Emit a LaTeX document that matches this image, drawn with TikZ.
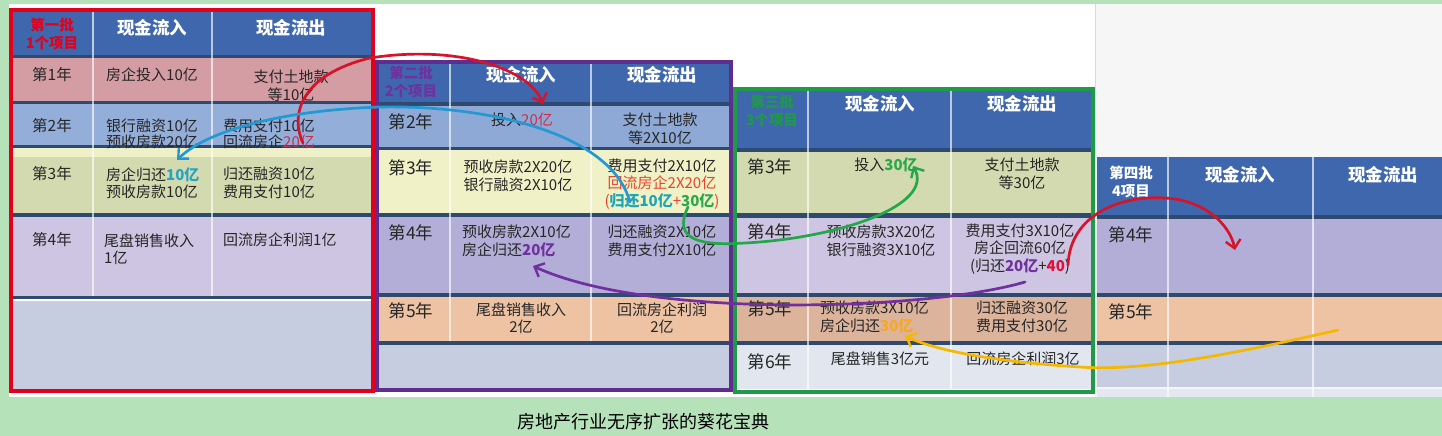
\documentclass[tikz,border=0pt]{standalone}
\usepackage{fontspec}
\setmainfont{Noto Sans CJK SC}
\usetikzlibrary{arrows.meta}
\definecolor{bggreen}{HTML}{B6E2BA}
\definecolor{panelgray}{HTML}{F6F6F6}
\definecolor{hdblue}{HTML}{3F67AD}
\definecolor{sepc}{HTML}{2E4A6F}
\definecolor{txt}{HTML}{262626}
\definecolor{rPink}{HTML}{D49CA3}
\definecolor{rBlue1}{HTML}{94AEDA}
\definecolor{rBlue2}{HTML}{8EA9D6}
\definecolor{rYG}{HTML}{D3DAAF}
\definecolor{rYstrip}{HTML}{EEF0C8}
\definecolor{rYellow}{HTML}{F0F1C6}
\definecolor{rLav1}{HTML}{CEC5E2}
\definecolor{rLav2}{HTML}{B3AED7}
\definecolor{rPeach}{HTML}{EEC3A4}
\definecolor{rPeachB}{HTML}{DCB49C}
\definecolor{rGray}{HTML}{C6CDE1}
\definecolor{rPale}{HTML}{E2E7EF}
\definecolor{rLow}{HTML}{E4E8F0}
\definecolor{boxRed}{HTML}{E3001B}
\definecolor{boxPurple}{HTML}{5E2D8E}
\definecolor{boxGreen}{HTML}{1E9A48}
\definecolor{cCrimson}{HTML}{C8304A}
\definecolor{cTeal}{HTML}{22A5C9}
\definecolor{cOrangeRed}{HTML}{E8442A}
\definecolor{cTealB}{HTML}{1FA6B4}
\definecolor{cGreen}{HTML}{2BA84A}
\definecolor{cPurple}{HTML}{7030A0}
\definecolor{cRed}{HTML}{E0103A}
\definecolor{cOrange}{HTML}{F7A823}
\definecolor{aRed}{HTML}{D7132B}
\definecolor{aBlue}{HTML}{2399D4}
\definecolor{aGreen}{HTML}{22A84A}
\definecolor{aPurple}{HTML}{7030A0}
\definecolor{aYellow}{HTML}{F5B800}
\tikzset{
  cell/.style={font=\fontsize{15}{17.5}\selectfont, text=txt, inner sep=0pt, align=center},
  cellL/.style={cell, align=left},
  yrone/.style={font=\fontsize{15.5}{18}\selectfont, text=txt, inner sep=0pt},
  yr/.style={font=\fontsize{17.5}{20}\selectfont, text=txt, inner sep=0pt},
  hd/.style={font=\bfseries\fontsize{17.5}{20}\selectfont, text=white, inner sep=0pt},
  batch/.style={font=\bfseries\fontsize{14.5}{18}\selectfont, inner sep=0pt, align=center},
  sepbar/.style={fill=sepc},
  colline/.style={draw=white, draw opacity=0.65, line width=1.2pt},
  arr/.style={line width=2.7pt, line cap=round, -{Straight Barb[length=8pt,width=15pt,line width=2.4pt]}},
}
\begin{document}
\begin{tikzpicture}[x=1pt,y=-1pt]
\useasboundingbox (0,0) rectangle (1442,436);
\fill[bggreen] (0,0) rectangle (1442,436);
\fill[white] (9,4) rectangle (1095,397);
\fill[panelgray] (1095,4) rectangle (1442,397);
\draw[black!15, line width=1pt] (1095,4) -- (1095,157);

% ---------- Table 1 ----------
\fill[hdblue] (12,12) rectangle (371,55);
\fill[sepbar] (12,55) rectangle (371,58);
\fill[rPink] (12,58) rectangle (371,101);
\fill[sepbar] (12,101) rectangle (371,104);
\fill[rBlue1] (12,104) rectangle (371,145);
\fill[sepbar] (12,145) rectangle (371,148);
\fill[rYstrip] (12,148) rectangle (371,157);
\fill[rYG] (12,157) rectangle (371,213);
\fill[sepbar] (12,213) rectangle (371,217);
\fill[rLav1] (12,217) rectangle (371,296);
\fill[sepbar] (12,296) rectangle (371,299);
\fill[white] (12,299) rectangle (371,301);
\fill[rGray] (12,301) rectangle (371,389);
\draw[colline] (93,12) -- (93,296);
\draw[colline] (212,12) -- (212,296);
\draw[boxRed, line width=4pt] (10.5,10.5) rectangle (372.5,390.5);

% ---------- Table 2 ----------
\fill[hdblue] (378,60) rectangle (730,102);
\fill[sepbar] (378,102) rectangle (730,106);
\fill[rBlue2] (378,106) rectangle (730,147);
\fill[sepbar] (378,147) rectangle (730,150);
\fill[rYellow] (378,150) rectangle (730,213);
\fill[sepbar] (378,213) rectangle (730,217);
\fill[rLav2] (378,217) rectangle (730,293);
\fill[sepbar] (378,293) rectangle (730,297);
\fill[rPeach] (378,297) rectangle (730,341);
\fill[sepbar] (378,341) rectangle (730,345);
\fill[rGray] (378,345) rectangle (730,389);
\draw[colline] (450,60) -- (450,341);
\draw[colline] (591,60) -- (591,341);
\draw[boxPurple, line width=4.5pt] (377,62) rectangle (731,390);

% ---------- Table 3 ----------
\fill[hdblue] (737,90) rectangle (1091,148);
\fill[sepbar] (737,148) rectangle (1091,152);
\fill[rYG] (737,152) rectangle (1091,213);
\fill[sepbar] (737,213) rectangle (1091,218);
\fill[rLav1] (737,218) rectangle (1091,293);
\fill[sepbar] (737,293) rectangle (1091,297);
\fill[rPeachB] (737,297) rectangle (1091,341);
\fill[sepbar] (737,341) rectangle (1091,345);
\fill[rPale] (737,345) rectangle (1091,389);
\draw[colline] (808,90) -- (808,389);
\draw[colline] (951,90) -- (951,389);
\draw[boxGreen, line width=4pt] (735,89) rectangle (1093,392);

% ---------- Table 4 ----------
\fill[hdblue] (1097,157) rectangle (1442,215);
\fill[sepbar] (1097,215) rectangle (1442,219);
\fill[rLav2] (1097,219) rectangle (1442,293);
\fill[sepbar] (1097,293) rectangle (1442,297);
\fill[rPeach] (1097,297) rectangle (1442,341);
\fill[sepbar] (1097,341) rectangle (1442,345);
\fill[rGray] (1097,345) rectangle (1442,387);
\fill[rLow] (1097,389) rectangle (1442,397);
\draw[colline] (1168,157) -- (1168,397);
\draw[colline] (1313,157) -- (1313,397);

% ---------- Texts table 1 ----------
\node[batch, text=boxRed] (b1) at (52,34) {第一批\\1个项目};
\node[hd] (t1in) at (152,28) {现金流入};
\node[hd] (t1out) at (291,28) {现金流出};
\node[yrone] (t1y1) at (52,75) {第1年};
\node[cell, anchor=west] (t1a1) at (106,75) {房企投入10亿};
\node[cell] (t1b1) at (291,86) {支付土地款\\等10亿};
\node[yrone] (t1y2) at (52,126) {第2年};
\node[cellL, anchor=west, font=\fontsize{15}{16}\selectfont] (t1a2) at (106,134) {银行融资10亿\\预收房款20亿};
\node[cellL, anchor=west, font=\fontsize{15}{16}\selectfont] (t1b2) at (223,134) {费用支付10亿\\回流房企\textcolor{cCrimson}{20亿}};
\node[yrone] (t1y3) at (52,174) {第3年};
\node[cellL, anchor=west] (t1a3) at (106,183) {房企归还\textcolor{cTeal}{\bfseries 10亿}\\预收房款10亿};
\node[cellL, anchor=west] (t1b3) at (223,183) {归还融资10亿\\费用支付10亿};
\node[yrone] (t1y4) at (52,240) {第4年};
\node[cellL, anchor=west] (t1a4) at (104,249) {尾盘销售收入\\1亿};
\node[cellL, anchor=west] (t1b4) at (223,240) {回流房企利润1亿};

% ---------- Texts table 2 ----------
\node[batch, text=cPurple] (b2) at (411,82) {第二批\\2个项目};
\node[hd] (t2in) at (521,75) {现金流入};
\node[hd] (t2out) at (662,75) {现金流出};
\node[yr] (t2y2) at (411,122) {第2年};
\node[cell] (t2a2) at (522,120) {投入\textcolor{cCrimson}{20亿}};
\node[cell] (t2b2) at (660,129) {支付土地款\\等2X10亿};
\node[yr] (t2y3) at (411,168) {第3年};
\node[cell] (t2a3) at (518,176) {预收房款2X20亿\\银行融资2X10亿};
\node[cell] (t2b3) at (662,184) {费用支付2X10亿\\\textcolor{cOrangeRed}{回流房企2X20亿}\\\textcolor{cOrangeRed}{(}\textcolor{cTealB}{\bfseries 归还10亿}\textcolor{cOrangeRed}{+}\textcolor{cGreen}{\bfseries 30亿}\textcolor{cOrangeRed}{)}};
\node[yr] (t2y4) at (411,233) {第4年};
\node[cellL, anchor=west] (t2a4) at (462,241) {预收房款2X10亿\\房企归还\textcolor{cPurple}{\bfseries 20亿}};
\node[cell] (t2b4) at (662,241) {归还融资2X10亿\\费用支付2X10亿};
\node[yr] (t2y5) at (411,311) {第5年};
\node[cell] (t2a5) at (521,318) {尾盘销售收入\\2亿};
\node[cell] (t2b5) at (662,318) {回流房企利润\\2亿};

% ---------- Texts table 3 ----------
\node[batch, text=boxGreen] (b3) at (772,111) {第三批\\3个项目};
\node[hd] (t3in) at (880,104) {现金流入};
\node[hd] (t3out) at (1022,104) {现金流出};
\node[yr] (t3y3) at (770,167) {第3年};
\node[cell] (t3a3) at (886,165) {投入\textcolor{cGreen}{\bfseries 30亿}};
\node[cell] (t3b3) at (1022,174) {支付土地款\\等30亿};
\node[yr] (t3y4) at (770,232) {第4年};
\node[cell] (t3a4) at (881,241) {预收房款3X20亿\\银行融资3X10亿};
\node[cell] (t3b4) at (1020,249) {费用支付3X10亿\\房企回流60亿\\(归还\textcolor{cPurple}{\bfseries 20亿}+\textcolor{cRed}{\bfseries 40})};
\node[yr] (t3y5) at (770,309) {第5年};
\node[cellL, anchor=west] (t3a5) at (820,317) {预收房款3X10亿\\房企归还\textcolor{cOrange}{\bfseries 30亿}};
\node[cell] (t3b5) at (1022,317) {归还融资30亿\\费用支付30亿};
\node[yr] (t3y6) at (770,362) {第6年};
\node[cell] (t3a6) at (880,359) {尾盘销售3亿元};
\node[cell] (t3b6) at (1023,359) {回流房企利润3亿};

% ---------- Texts table 4 ----------
\node[batch, text=white] (b4) at (1131,182) {第四批\\4项目};
\node[hd] (t4in) at (1240,175) {现金流入};
\node[hd] (t4out) at (1383,175) {现金流出};
\node[yr] (t4y4) at (1131,235) {第4年};
\node[yr] (t4y5) at (1131,312) {第5年};

% ---------- Caption ----------
\node[font=\fontsize{18}{20}\selectfont, text=black, inner sep=0pt] (cap) at (643,422) {房地产行业无序扩张的葵花宝典};

% ---------- Arrows ----------
\coordinate (r1s) at (303,143);
\coordinate (r1e) at (543,104);
\draw[arr, aRed] (r1s) .. controls (290,115) and (300,75) .. (370,58) .. controls (460,44) and (530,70) .. (r1e);

\coordinate (bls) at (630,202);
\coordinate (ble) at (177,160);
\draw[arr, aBlue] (bls) .. controls (610,130) and (480,105) .. (380,107) .. controls (290,110) and (210,128) .. (ble);

\coordinate (gs) at (688,207);
\coordinate (ge) at (913,166);
\draw[arr, aGreen] (gs) .. controls (672,240) and (700,246) .. (745,243) .. controls (840,238) and (935,205) .. (ge);

\coordinate (ps) at (1025,282);
\coordinate (pe) at (533,266);
\draw[arr, aPurple] (ps) .. controls (930,310) and (650,320) .. (pe);

\coordinate (r2s) at (1068,265);
\coordinate (r2e) at (1235,250);
\draw[arr, aRed] (r2s) .. controls (1070,215) and (1120,195) .. (1165,198) .. controls (1205,200) and (1230,225) .. (r2e);

\coordinate (ys) at (1338,330);
\coordinate (ye) at (905,336);
\draw[arr, aYellow] (ys) .. controls (1250,350) and (1150,372) .. (1080,367) .. controls (1000,362) and (940,352) .. (ye);
\end{tikzpicture}
\end{document}
